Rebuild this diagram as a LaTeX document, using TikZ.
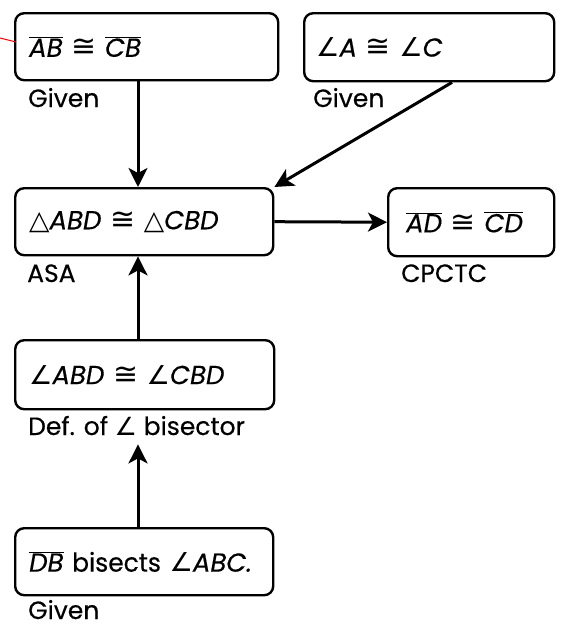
\documentclass[tikz,border=0pt]{standalone}
\usepackage{fontspec}
\setmainfont{Poppins}[FakeBold=0.4]
\newfontfamily\symf{DejaVu Sans}
\usetikzlibrary{arrows.meta,calc}
\newcommand\seg[1]{$\overline{\hbox{\itshape #1}}$}
\newcommand\cgr{{\symf\scalebox{1.15}{≅}}}
\newcommand\ang{{\symf ∠}}
\newcommand\tri{{\symf\scalebox{1.02}{△}}}
\newcommand\itl[1]{{\itshape #1}}
\begin{document}
\begin{tikzpicture}[x=1pt,y=-1pt,
  box/.style={draw, rounded corners=9pt, line width=2.4pt, anchor=north west,
    inner xsep=14pt, inner ysep=0pt, align=left,
    font=\fontsize{26}{31}\selectfont},
  lab/.style={anchor=base west, inner sep=0pt, font=\fontsize{25}{29}\selectfont, text=black},
  arr/.style={line width=3pt, -{Stealth[length=19pt,width=19pt,inset=5pt]}}]
\useasboundingbox (0,0) rectangle (561,624);
% boxes
\node[box, text width=235pt, minimum height=67pt] (b1) at (14,12) {\seg{AB} \cgr{} \seg{CB}};
\node[box, text width=226pt, minimum height=68pt, inner xsep=12pt] (b2) at (303,12) {\ang\itl{A} \cgr{} \ang\itl{C}};
\node[box, text width=230pt, minimum height=67pt] (b3) at (14,187) {\tri\itl{ABD} \cgr{} \tri\itl{CBD}};
\node[box, text width=130pt, minimum height=68pt, inner xsep=18pt] (b4) at (387,187) {\seg{AD} \cgr{} \seg{CD}};
\node[box, text width=231pt, minimum height=69pt] (b5) at (14,339) {\ang\itl{ABD} \cgr{} \ang\itl{CBD}};
\node[box, text width=230pt, minimum height=67pt, inner xsep=14pt] (b6) at (14,527) {\makebox[230pt][l]{\seg{DB} {\addfontfeature{FakeStretch=0.96}bisects} \ang\itl{ABC.}}};
% labels
\node[lab] (l1) at (28,107) {Given};
\node[lab] (l2) at (313,107) {Given};
\node[lab] (l3) at (27,282) {ASA};
\node[lab] (l4) at (401,282) {CPCTC};
\node[lab] (l5) at (28,435) {Def. of \ang{} bisector};
\node[lab] (l6) at (28,619) {Given};
% arrows
\draw[arr] ($(b1.south west)+(124,0)$) -- ($(b3.north west)+(124,0)$);
\draw[arr] ($(b2.south west)+(149,0)$) -- (b3.north east);
\draw[arr] (b3.east) -- (b4.west);
\draw[arr] ($(b5.north west)+(124,0)$) -- ($(b3.south west)+(124,0)$);
\draw[arr] ($(b6.north west)+(124,0)$) -- ($(b5.south west)+(124,34)$);
% red stray mark
\coordinate (r0) at (0,38);
\draw[red, line width=1pt] (r0) -- ($(b1.north west)+(2,30)$);
\end{tikzpicture}
\end{document}
